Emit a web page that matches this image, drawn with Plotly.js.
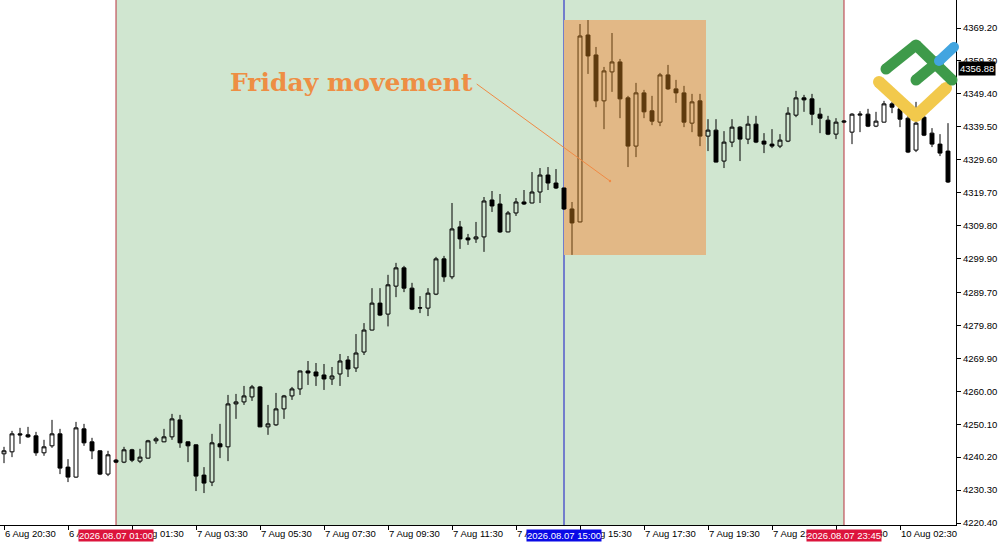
<!DOCTYPE html>
<html>
<head>
<meta charset="utf-8">
<script src="https://cdn.plot.ly/plotly-3.0.1.min.js"></script>
<style>
html,body{margin:0;padding:0;background:#fff;}
#chart{width:1000px;height:545px;}
</style>
</head>
<body>
<div id="chart"></div>
<script>
// ---- DATA (XAUUSD M15) ----
const sessions = [
  {day: '2026.08.06', from: '20:30', to: '23:45'},
  {day: '2026.08.07', from: '01:00', to: '23:45'},
  {day: '2026.08.10', from: '01:00', to: '04:00'}
];

const openP = [
4241.2,4241.8,4247.2,4246.9,4246.6,4241.5,4243.6,4247.2,4237.2,4234.2,
4248.7,4244.8,4242.1,4235.1,4239.3,4238.7,4242.4,4239.0,4239.9,4245.1,
4244.8,4246.3,4251.4,4244.8,4243.9,4234.8,4232.7,4244.2,4243.3,4256.2,
4256.8,4258.3,4261.3,4249.3,4249.9,4254.7,4258.6,4260.7,4266.1,4265.8,
4264.9,4263.7,4265.2,4269.4,4267.0,4271.8,4278.4,4286.5,4283.2,4291.6,
4297.1,4291.0,4285.0,4285.0,4289.2,4299.8,4294.4,4309.4,4306.1,4305.8,
4306.4,4317.5,4316.3,4307.9,4313.6,4316.9,4316.6,4319.9,4325.0,4322.6,
4321.1,4314.8,4310.9,4367.1,4361.1,4347.3,4356.0,4359.0,4348.2,4333.7,
4349.7,4344.3,4340.9,4355.1,4350.9,4349.7,4340.6,4347.3,4336.7,4338.5,
4329.2,4334.9,4339.4,4335.8,4340.3,4335.2,4334.3,4333.7,4335.2,4343.0,
4348.2,4347.9,4343.3,4341.5,4337.3,4340.9,4337.9,4343.0,4343.3,4339.7,
4340.9,4346.4,4344.9,4342.1,4332.5,4342.4,4337.6,4334.3,4332.2];

const highP = [
4243.3,4248.1,4249.0,4249.3,4247.8,4245.4,4251.4,4248.7,4239.6,4250.8,
4250.2,4246.0,4242.2,4242.1,4239.6,4243.3,4242.7,4242.7,4245.4,4246.3,
4248.7,4253.2,4252.9,4244.9,4244.0,4237.2,4247.2,4250.2,4258.9,4259.2,
4261.6,4261.9,4261.6,4255.9,4259.5,4258.9,4261.3,4266.2,4269.1,4268.5,
4268.2,4267.3,4271.2,4270.6,4277.2,4280.5,4291.0,4291.0,4295.0,4298.6,
4297.7,4292.6,4288.6,4291.0,4300.4,4300.7,4316.6,4311.2,4307.3,4310.9,
4318.4,4320.2,4319.3,4314.2,4318.1,4320.5,4325.9,4327.1,4327.4,4326.8,
4321.2,4316.9,4370.4,4371.6,4363.5,4357.5,4367.7,4359.9,4348.8,4352.7,
4350.6,4348.8,4355.7,4358.1,4353.6,4351.8,4349.4,4349.4,4341.8,4341.8,
4338.2,4341.8,4339.7,4342.8,4342.8,4337.6,4338.8,4337.3,4345.4,4350.3,
4349.1,4349.4,4345.2,4342.8,4342.1,4341.5,4343.6,4344.2,4344.9,4344.0,
4347.3,4347.0,4345.4,4343.0,4347.0,4343.3,4339.1,4337.3,4340.6];

const lowP = [
4238.4,4240.2,4244.2,4246.0,4240.6,4240.6,4243.0,4235.1,4232.7,4234.0,
4243.6,4239.6,4234.8,4234.5,4238.4,4238.4,4238.7,4238.4,4239.8,4244.2,
4244.7,4245.4,4243.0,4238.7,4230.0,4229.4,4231.5,4239.9,4239.0,4251.7,
4255.9,4257.1,4249.2,4246.9,4249.6,4251.7,4257.4,4258.9,4261.9,4261.6,
4260.4,4261.9,4261.6,4264.3,4265.8,4270.9,4278.3,4282.6,4279.5,4288.3,
4289.8,4284.4,4283.5,4282.6,4288.9,4292.9,4293.7,4302.8,4304.0,4304.6,
4301.9,4313.9,4307.6,4307.8,4312.7,4316.0,4316.5,4316.6,4320.5,4320.8,
4314.5,4301.0,4310.8,4355.4,4345.4,4338.8,4350.0,4342.1,4327.4,4330.4,
4342.1,4340.0,4339.7,4350.6,4346.7,4339.4,4337.9,4333.7,4332.2,4328.8,
4327.1,4333.4,4329.2,4334.3,4334.6,4331.6,4333.1,4333.1,4334.9,4342.4,
4344.0,4340.0,4337.6,4337.0,4335.8,4340.6,4334.3,4337.9,4339.4,4339.4,
4340.8,4343.6,4339.4,4331.6,4331.9,4336.7,4333.4,4330.7,4322.6];

const closeP = [
4242.1,4247.2,4246.9,4246.3,4241.5,4243.3,4247.2,4236.9,4234.2,4249.0,
4244.5,4242.1,4235.1,4240.9,4238.7,4242.4,4239.3,4240.2,4245.1,4245.7,
4246.3,4251.7,4244.5,4243.6,4234.5,4232.4,4244.5,4243.3,4256.2,4256.8,
4258.6,4261.3,4249.3,4250.2,4254.7,4258.6,4260.7,4266.1,4265.5,4264.6,
4263.7,4264.6,4269.1,4266.7,4271.5,4278.4,4286.5,4282.9,4292.0,4297.1,
4291.0,4284.7,4285.1,4289.5,4299.8,4294.4,4308.8,4305.8,4305.5,4306.4,
4317.2,4315.7,4307.9,4313.6,4316.9,4316.3,4319.9,4325.0,4322.6,4321.1,
4314.8,4310.6,4366.8,4360.8,4347.3,4356.3,4359.0,4347.9,4333.7,4349.7,
4344.0,4341.2,4355.1,4350.9,4349.7,4340.9,4347.0,4336.7,4338.5,4328.9,
4334.9,4339.4,4335.8,4340.3,4334.9,4334.3,4333.7,4335.5,4343.6,4348.2,
4347.6,4343.3,4342.1,4337.3,4340.9,4341.2,4343.3,4343.3,4339.7,4341.2,
4346.4,4345.4,4341.8,4331.9,4340.6,4337.0,4334.3,4331.6,4322.9];

const tickVals = ['2026.08.06 20:30','2026.08.06 22:30','2026.08.07 01:30','2026.08.07 03:30',
  '2026.08.07 05:30','2026.08.07 07:30','2026.08.07 09:30','2026.08.07 11:30','2026.08.07 13:30',
  '2026.08.07 15:30','2026.08.07 17:30','2026.08.07 19:30','2026.08.07 21:30','2026.08.07 23:30',
  '2026.08.10 02:30'];
const tickText = ['6 Aug 20:30','6 Aug 22:30','7 Aug 01:30','7 Aug 03:30','7 Aug 05:30',
  '7 Aug 07:30','7 Aug 09:30','7 Aug 11:30','7 Aug 13:30','7 Aug 15:30','7 Aug 17:30',
  '7 Aug 19:30','7 Aug 21:30','7 Aug 23:30','10 Aug 02:30'];

const priceTicks = [4369.20,4359.30,4349.40,4339.50,4329.60,4319.70,4309.80,4299.90,
  4289.70,4279.80,4269.90,4260.00,4250.10,4240.20,4230.30,4220.40];
const priceRange = [4219.80, 4377.62];

const sessionStart = '2026.08.07 01:00';
const fridayStart = '2026.08.07 15:00';
const sessionEnd = '2026.08.07 23:45';
const fridayEndIndex = 87.75;        // right edge of the Friday box (in bars)
const fridayLow = 4301.0, fridayHigh = 4371.6;
const currentPrice = 4356.88;
const noteText = 'Friday movement';

// ---- build time categories ----
function pad(n){return (n<10?'0':'')+n;}
const times = [];
sessions.forEach(s => {
  let [h,m] = s.from.split(':').map(Number);
  const [eh,em] = s.to.split(':').map(Number);
  while (h*60+m <= eh*60+em) {
    times.push(s.day + ' ' + pad(h) + ':' + pad(m));
    m += 15; if (m >= 60) { m -= 60; h += 1; }
  }
});

const fStartIdx = times.indexOf(fridayStart);
function inBox(i){ return i>fStartIdx && i<=Math.floor(fridayEndIndex); }
function pick(arr, inside){ return arr.filter((v,i)=> inside ? inBox(i) : !inBox(i)); }

const normal = {
  type:'candlestick',
  x: pick(times,false), open: pick(openP,false), high: pick(highP,false), low: pick(lowP,false), close: pick(closeP,false),
  increasing:{line:{color:'#000000',width:1}, fillcolor:'rgba(0,0,0,0)'},
  decreasing:{line:{color:'#000000',width:1}, fillcolor:'#000000'},
  whiskerwidth:0, hoverinfo:'skip', showlegend:false
};
const brown = {
  type:'candlestick',
  x: pick(times,true), open: pick(openP,true), high: pick(highP,true), low: pick(lowP,true), close: pick(closeP,true),
  increasing:{line:{color:'#5E3A0E',width:1}, fillcolor:'rgba(0,0,0,0)'},
  decreasing:{line:{color:'#5E3A0E',width:1}, fillcolor:'#5E3A0E'},
  whiskerwidth:0, hoverinfo:'skip', showlegend:false
};

const tickFont = {family:"Tahoma, 'Liberation Sans', Arial, sans-serif", size:9.5, color:'#000'};

const shapes = [
  {type:'rect', layer:'below', xref:'x', yref:'paper', x0:sessionStart, x1:sessionEnd, y0:0, y1:1,
   fillcolor:'#D0E6D0', line:{width:0}},
  {type:'rect', layer:'below', xref:'x', yref:'y', x0:fridayStart, x1:fridayEndIndex, y0:fridayLow, y1:fridayHigh,
   fillcolor:'#E2B886', line:{width:0}},
  {type:'line', layer:'below', xref:'x', yref:'paper', x0:sessionStart, x1:sessionStart, y0:0, y1:1,
   line:{color:'#B8323F', width:1}},
  {type:'line', layer:'below', xref:'x', yref:'paper', x0:sessionEnd, x1:sessionEnd, y0:0, y1:1,
   line:{color:'#B8323F', width:1}},
  {type:'line', layer:'below', xref:'x', yref:'paper', x0:fridayStart, x1:fridayStart, y0:0, y1:1,
   line:{color:'#1414C8', width:1}}
];

// ---- logo (decoration, pixel offsets from the plot's top-right corner) ----
function logoStroke(pts, color, w){
  const out = [];
  for (let k=0;k<pts.length-1;k++){
    out.push({type:'line', layer:'above', xref:'paper', yref:'paper', xsizemode:'pixel', ysizemode:'pixel',
      xanchor:1, yanchor:1, x0:pts[k][0], y0:pts[k][1], x1:pts[k+1][0], y1:pts[k+1][1],
      line:{color:color, width:w}});
  }
  pts.forEach(p=>{
    out.push({type:'circle', layer:'above', xref:'paper', yref:'paper', xsizemode:'pixel', ysizemode:'pixel',
      xanchor:1, yanchor:1, x0:p[0]-w/2, x1:p[0]+w/2, y0:p[1]-w/2, y1:p[1]+w/2,
      fillcolor:color, line:{width:0}});
  });
  return out;
}
const logo = [].concat(
  logoStroke([[-77,-82],[-40,-116],[-10,-88]], '#F2C94C', 12),
  logoStroke([[-70,-69],[-40,-45],[-4,-80]], '#3E9A4A', 11),
  logoStroke([[-40,-80],[-17,-61]], '#3E9A4A', 11),
  logoStroke([[-17,-61],[-2,-47]], '#42A5E0', 10)
);

const annotations = [
  {xref:'x', yref:'y', x:times.indexOf('2026.08.07 03:30')+4, y:4352.97, xanchor:'left', yanchor:'middle',
   text:'<b>'+noteText+'</b>', showarrow:false,
   font:{family:"'DejaVu Serif', 'Liberation Serif', serif", size:25, color:'#EE8E44'}},
  {xref:'x', yref:'y', axref:'x', ayref:'y', x:75.75, y:4323.2, ax:58.9, ay:4352.7,
   showarrow:true, arrowhead:6, arrowsize:0.6, arrowwidth:1, arrowcolor:'#F08A44', text:''},
  {xref:'x', yref:'paper', x:sessionStart, y:0, yanchor:'top', yshift:-4, showarrow:false,
   text:'2026.08.07 01:00', bgcolor:'#DC143C', borderpad:0, font:Object.assign({},tickFont,{color:'#fff'})},
  {xref:'x', yref:'paper', x:fridayStart, y:0, yanchor:'top', yshift:-4, showarrow:false,
   text:'2026.08.07 15:00', bgcolor:'#0A0AE6', borderpad:0, font:Object.assign({},tickFont,{color:'#fff'})},
  {xref:'x', yref:'paper', x:sessionEnd, y:0, yanchor:'top', yshift:-4, showarrow:false,
   text:'2026.08.07 23:45', bgcolor:'#DC143C', borderpad:0, font:Object.assign({},tickFont,{color:'#fff'})},
  {xref:'paper', yref:'y', x:1, xanchor:'left', xshift:2, y:currentPrice, yanchor:'middle', showarrow:false,
   text:currentPrice.toFixed(2), bgcolor:'#000', borderpad:1, font:Object.assign({},tickFont,{color:'#fff'})}
];

const layout = {
  width:1000, height:545,
  margin:{l:0, r:44, t:0, b:20, pad:0},
  paper_bgcolor:'#ffffff', plot_bgcolor:'#ffffff',
  showlegend:false,
  xaxis:{type:'category', categoryorder:'array', categoryarray:times,
    range:[-0.5, 119], rangeslider:{visible:false},
    showgrid:false, zeroline:false, showline:true, linecolor:'#000', linewidth:1,
    tickmode:'array', tickvals:tickVals, ticktext:tickText,
    ticks:'outside', ticklen:4, tickcolor:'#000', ticklabelposition:'outside right',
    tickfont:tickFont, fixedrange:true},
  yaxis:{side:'right', range:priceRange, showgrid:false, zeroline:false,
    showline:true, linecolor:'#000', linewidth:1,
    tickmode:'array', tickvals:priceTicks, ticktext:priceTicks.map(v=>v.toFixed(2)),
    ticks:'outside', ticklen:4, tickcolor:'#000', tickfont:tickFont, fixedrange:true},
  shapes: shapes.concat(logo),
  annotations: annotations
};

Plotly.newPlot('chart', [normal, brown], layout, {staticPlot:true, displayModeBar:false});
</script>
</body>
</html>
